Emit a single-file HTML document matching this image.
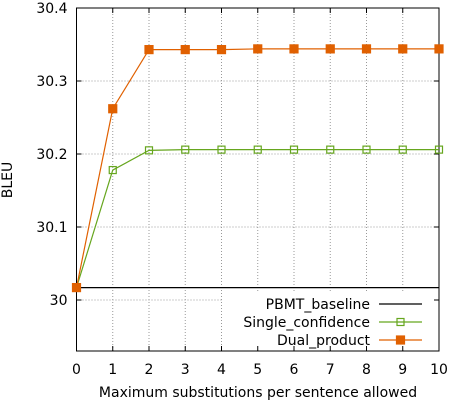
<!DOCTYPE html>
<html><head><meta charset="utf-8"><style>
body{margin:0;background:#fff}
svg text{font-family:"DejaVu Sans","Liberation Sans",sans-serif;font-size:14px;fill:#000}
</style></head><body>
<svg id="chart" width="452" height="400" xmlns="http://www.w3.org/2000/svg"></svg>
<script>
const categories=[0,1,2,3,4,5,6,7,8,9,10];
const yTicks=[30,30.1,30.2,30.3,30.4];
const yTickLabels=["30","30.1","30.2","30.3","30.4"];
const baselineValue=30.017;
const singleValues=[30.017,30.178,30.205,30.206,30.206,30.206,30.206,30.206,30.206,30.206,30.206];
const dualValues=[30.017,30.262,30.343,30.343,30.343,30.344,30.344,30.344,30.344,30.344,30.344];
const NS="http://www.w3.org/2000/svg";
const svg=document.getElementById('chart');
const L=76.5,R=439,T=8,B=351;
const x=v=>L+(v-0)/(10-0)*(R-L);
const y=v=>300-(v-30)*730;
function mk(tag,attrs,parent){const e=document.createElementNS(NS,tag);for(const k in attrs)e.setAttribute(k,attrs[k]);(parent||svg).appendChild(e);return e;}
categories.forEach(c=>{if(c>0&&c<10){const g=mk('line',{x1:x(c),x2:x(c),y1:T,y2:B,stroke:'#999','stroke-dasharray':'1,2','stroke-width':1});

}});
yTicks.forEach(v=>{if(v>30&&v<30.4){const g=mk('line',{x1:L,x2:R,y1:y(v),y2:y(v),stroke:'#999','stroke-dasharray':'1,2','stroke-width':1});

}});
const g30=mk('line',{x1:L,x2:R,y1:y(30),y2:y(30),stroke:'#999','stroke-dasharray':'1,2','stroke-width':1});


const lb=mk('rect',{x:222,y:292,width:216,height:58,fill:'#fff'});


categories.forEach(c=>{
 mk('line',{x1:x(c),x2:x(c),y1:B,y2:B-5,stroke:'#000'});mk('line',{x1:x(c),x2:x(c),y1:T,y2:T+5,stroke:'#000'});
 const t=mk('text',{x:x(c),y:B+23,'text-anchor':'middle'});t.textContent=c;
 
 
});
yTicks.forEach((v,i)=>{
 mk('line',{x1:L,x2:L+5,y1:y(v),y2:y(v),stroke:'#000'});mk('line',{x1:R,x2:R-5,y1:y(v),y2:y(v),stroke:'#000'});
 const t=mk('text',{x:L-9,y:y(v)+5,'text-anchor':'end'});t.textContent=yTickLabels[i];
 
 
});
const frame=mk('rect',{x:L,y:T,width:R-L,height:B-T,fill:'none',stroke:'#000','stroke-width':1});


const bl=mk('line',{x1:L,x2:R,y1:y(baselineValue),y2:y(baselineValue),stroke:'#000','stroke-width':1.2});


function series(vals,color,filled,name){
 const p=mk('polyline',{points:vals.map((v,i)=>x(categories[i])+','+y(v)).join(' '),fill:'none',stroke:color,'stroke-width':1.2});
 
 
 vals.forEach((v,i)=>{const s=filled?8:7;const m=mk('rect',{x:x(categories[i])-s/2,y:y(v)-s/2,width:s,height:s,fill:filled?color:'none',stroke:color,'stroke-width':1.2});
 
 });
}
series(singleValues,'#66a61e',false,'single-confidence');
series(dualValues,'#e06000',true,'dual-product');
const leg=[["PBMT_baseline","#000",null],["Single_confidence","#66a61e",false],["Dual_product","#e06000",true]];
leg.forEach((l,i)=>{const yy=304+i*18;
 const t=mk('text',{x:370,y:yy+5,'text-anchor':'end'});t.textContent=l[0];
 
 
 mk('line',{x1:379,x2:422,y1:yy,y2:yy,stroke:l[1],'stroke-width':1.2});
 if(l[2]!==null){const s=l[2]?8:7;mk('rect',{x:400.5-s/2,y:yy-s/2,width:s,height:s,fill:l[2]?l[1]:'none',stroke:l[1],'stroke-width':1.2});}
});
const xt=mk('text',{x:258,y:397,'text-anchor':'middle'});xt.textContent='Maximum substitutions per sentence allowed';


const yt=mk('text',{x:12,y:180,'text-anchor':'middle',transform:'rotate(-90 12 180)'});yt.textContent='BLEU';


</script>
</body></html>
